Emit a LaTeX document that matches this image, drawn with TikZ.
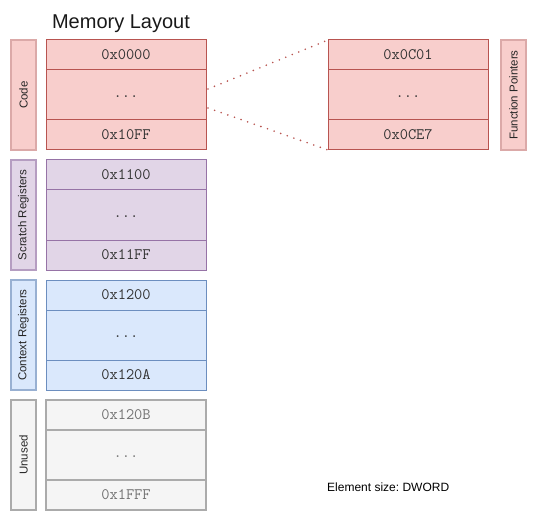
\documentclass[tikz,border=0pt]{standalone}
\usepackage{fontspec}
\setmainfont{Liberation Sans}
\usepackage{tikz}
\usetikzlibrary{positioning, calc}
\definecolor{redfill}{HTML}{F8CECC}
\definecolor{redline}{HTML}{B85450}
\definecolor{purfill}{HTML}{E1D5E7}
\definecolor{purline}{HTML}{9673A6}
\definecolor{blufill}{HTML}{DAE8FC}
\definecolor{bluline}{HTML}{6C8EBF}
\definecolor{gryfill}{HTML}{F5F5F5}
\definecolor{gryline}{HTML}{ABABAB}
\tikzset{
  cell/.style={draw, line width=1pt, minimum width=160pt, inner sep=0pt, outer sep=0pt,
    font=\ttfamily\fontsize{16}{16}\selectfont, text=black!80},
  top/.style={cell, minimum height=30pt, anchor=north},
  mid/.style={cell, minimum height=50pt, anchor=north, text height=5pt, text depth=0pt},
  seclab/.style={draw, line width=1.4pt, rotate=90, minimum width=110pt, minimum height=25pt,
    inner sep=0pt, outer sep=0pt, anchor=north east, font=\fontsize{11.5}{12}\selectfont, text=black!85},
  dots/.style={draw=redline, line width=1.8pt, line cap=round, dash pattern=on 0pt off 7pt}
}

\begin{document}
\begin{tikzpicture}[x=1pt, y=-1pt]
\useasboundingbox (0,0) rectangle (537,521);
\node[font=\fontsize{20}{22}\selectfont, text=black!90] (title) at (121,24) {Memory Layout};
% ---------- code ----------
\node[seclab, fill=redfill, draw=redline!50] (lcode) at (11,40) {Code};
\node[top, fill=redfill, draw=redline] (code1) at (126,40) {0x0000};
\node[mid, fill=redfill, draw=redline] (code2) at (code1.south) {...};
\node[top, fill=redfill, draw=redline] (code3) at (code2.south) {0x10FF};
% ---------- scratch registers ----------
\node[seclab, fill=purfill, draw=purline!70] (lscr) at (11,160) {Scratch Registers};
\node[top, fill=purfill, draw=purline] (scr1) at (126,160) {0x1100};
\node[mid, fill=purfill, draw=purline] (scr2) at (scr1.south) {...};
\node[top, fill=purfill, draw=purline] (scr3) at (scr2.south) {0x11FF};
% ---------- context registers ----------
\node[seclab, fill=blufill, draw=bluline!70] (lctx) at (11,280) {Context Registers};
\node[top, fill=blufill, draw=bluline] (ctx1) at (126,280) {0x1200};
\node[mid, fill=blufill, draw=bluline] (ctx2) at (ctx1.south) {...};
\node[top, fill=blufill, draw=bluline] (ctx3) at (ctx2.south) {0x120A};
% ---------- unused ----------
\node[seclab, fill=gryfill, draw=gryline, line width=2pt] (lunu) at (11,400) {Unused};
\node[top, fill=gryfill, draw=gryline, line width=1.6pt, text=black!55] (unu1) at (126,400) {0x120B};
\node[mid, fill=gryfill, draw=gryline, line width=1.6pt, text=black!55] (unu2) at (unu1.south) {...};
\node[top, fill=gryfill, draw=gryline, line width=1.6pt, text=black!55] (unu3) at (unu2.south) {0x1FFF};
% ---------- function pointers ----------
\node[top, fill=redfill, draw=redline] (fp1) at (408,40) {0x0C01};
\node[mid, fill=redfill, draw=redline] (fp2) at (fp1.south) {...};
\node[top, fill=redfill, draw=redline] (fp3) at (fp2.south) {0x0CE7};
\node[seclab, fill=redfill, draw=redline!50] (lfp) at (501,40) {Function Pointers};
% ---------- zoom lines ----------
\draw[dots] ([xshift=2pt, yshift=6pt]code2.east) -- (fp1.north west);
\draw[dots] ([xshift=2pt, yshift=-13pt]code2.east) -- (fp3.south west);
% ---------- note ----------
\node[font=\fontsize{12}{13}\selectfont\frenchspacing, anchor=west, inner sep=0pt] (note) at (327,487) {Element size: DWORD};
\end{tikzpicture}
\end{document}
